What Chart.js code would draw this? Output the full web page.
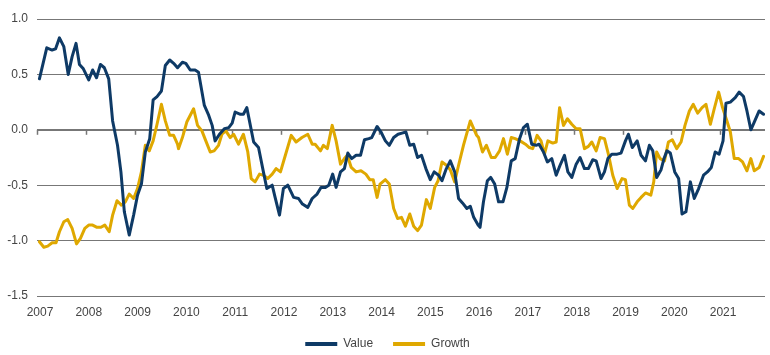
<!DOCTYPE html>
<html>
<head>
<meta charset="utf-8">
<script src="https://cdn.jsdelivr.net/npm/chart.js@4/dist/chart.umd.min.js"></script>
<style>
  html, body { margin: 0; padding: 0; background: #ffffff; }
  #wrap { width: 770px; height: 355px; position: relative; }
</style>
</head>
<body>
<div id="wrap"><canvas id="c" width="770" height="355"></canvas></div>
<script>
// ---- data ----
const yearTicks = [2007, 2008, 2009, 2010, 2011, 2012, 2013, 2014, 2015, 2016, 2017, 2018, 2019, 2020, 2021];
const yTicks = [-1.5, -1.0, -0.5, 0.0, 0.5, 1.0];

const valueDates = [
  2007.05, 2007.20, 2007.31, 2007.38, 2007.46, 2007.55, 2007.64, 2007.72, 2007.80, 2007.87, 2007.95,
  2008.06, 2008.14, 2008.22, 2008.30, 2008.38, 2008.47, 2008.55, 2008.65, 2008.72, 2008.79, 2008.89, 2008.98,
  2009.06, 2009.14, 2009.22, 2009.31, 2009.38, 2009.46, 2009.55, 2009.63, 2009.72, 2009.80, 2009.88, 2009.98,
  2010.05, 2010.14, 2010.24, 2010.31, 2010.43, 2010.52, 2010.59, 2010.65, 2010.74, 2010.84, 2010.93,
  2011.00, 2011.06, 2011.17, 2011.23, 2011.30, 2011.44, 2011.54, 2011.64, 2011.71, 2011.82, 2011.88, 2011.97,
  2012.05, 2012.14, 2012.26, 2012.36, 2012.44, 2012.55, 2012.64, 2012.74, 2012.82, 2012.91, 2012.98,
  2013.06, 2013.13, 2013.22, 2013.30, 2013.37, 2013.45, 2013.54, 2013.63, 2013.71, 2013.80, 2013.86, 2013.97,
  2014.05, 2014.14, 2014.22, 2014.31, 2014.40, 2014.48, 2014.56, 2014.64, 2014.72, 2014.80, 2014.88, 2014.97,
  2015.06, 2015.14, 2015.23, 2015.30, 2015.38, 2015.47, 2015.56, 2015.64, 2015.72, 2015.81, 2015.88, 2015.95,
  2016.04, 2016.08, 2016.15, 2016.23, 2016.30, 2016.38, 2016.46, 2016.55, 2016.63, 2016.72, 2016.80, 2016.89, 2016.97,
  2017.05, 2017.14, 2017.23, 2017.29, 2017.38, 2017.46, 2017.55, 2017.64, 2017.72, 2017.81, 2017.88, 2017.96,
  2018.05, 2018.13, 2018.22, 2018.30, 2018.39, 2018.46, 2018.56, 2018.63, 2018.70, 2018.78, 2018.89, 2018.97,
  2019.06, 2019.12, 2019.20, 2019.30, 2019.38, 2019.47, 2019.55, 2019.62, 2019.70, 2019.79, 2019.85, 2019.91, 2019.98,
  2020.07, 2020.15, 2020.22, 2020.30, 2020.39, 2020.47, 2020.56, 2020.66, 2020.74, 2020.82, 2020.90, 2020.98,
  2021.06, 2021.12, 2021.21, 2021.31, 2021.39, 2021.48, 2021.55, 2021.63, 2021.70, 2021.80, 2021.89
];
const valueSeries = [
  0.46, 0.74, 0.72, 0.73, 0.83, 0.75, 0.50, 0.66, 0.78, 0.59, 0.55,
  0.45, 0.54, 0.47, 0.59, 0.56, 0.46, 0.08, -0.14, -0.38, -0.74, -0.95, -0.77,
  -0.59, -0.49, -0.20, -0.08, 0.27, 0.30, 0.35, 0.58, 0.63, 0.60, 0.56, 0.61,
  0.60, 0.54, 0.54, 0.52, 0.22, 0.13, 0.04, -0.10, -0.04, 0.01, 0.02,
  0.06, 0.16, 0.14, 0.14, 0.20, -0.11, -0.16, -0.38, -0.53, -0.50, -0.61, -0.77,
  -0.53, -0.50, -0.61, -0.62, -0.67, -0.70, -0.62, -0.58, -0.52, -0.52, -0.50,
  -0.40, -0.52, -0.38, -0.35, -0.21, -0.26, -0.23, -0.23, -0.09, -0.08, -0.07, 0.03,
  -0.02, -0.10, -0.14, -0.07, -0.04, -0.03, -0.02, -0.14, -0.13, -0.25, -0.23, -0.35,
  -0.45, -0.38, -0.41, -0.46, -0.36, -0.28, -0.38, -0.62, -0.66, -0.71, -0.69, -0.79,
  -0.86, -0.88, -0.65, -0.46, -0.43, -0.49, -0.65, -0.65, -0.52, -0.28, -0.26, -0.08, 0.02,
  0.05, -0.13, -0.14, -0.13, -0.20, -0.29, -0.26, -0.41, -0.32, -0.23, -0.38, -0.43,
  -0.31, -0.25, -0.35, -0.35, -0.27, -0.28, -0.44, -0.38, -0.26, -0.22, -0.22, -0.21,
  -0.10, -0.04, -0.16, -0.10, -0.23, -0.28, -0.14, -0.19, -0.43, -0.36, -0.26, -0.19, -0.21,
  -0.38, -0.44, -0.76, -0.74, -0.47, -0.62, -0.53, -0.41, -0.38, -0.34, -0.20, -0.22,
  -0.10, 0.24, 0.25, 0.29, 0.34, 0.30, 0.17, 0.00, 0.07, 0.17, 0.14
];

const growthDates = [
  2007.05, 2007.14, 2007.22, 2007.31, 2007.39, 2007.46, 2007.55, 2007.63, 2007.72, 2007.81, 2007.89, 2007.98,
  2008.06, 2008.14, 2008.23, 2008.31, 2008.39, 2008.48, 2008.55, 2008.64, 2008.73, 2008.81, 2008.89, 2008.98,
  2009.06, 2009.14, 2009.22, 2009.30, 2009.38, 2009.46, 2009.55, 2009.63, 2009.72, 2009.80, 2009.88, 2009.90, 2009.98,
  2010.07, 2010.21, 2010.29, 2010.38, 2010.46, 2010.55, 2010.63, 2010.72, 2010.79, 2010.87, 2010.96,
  2011.03, 2011.13, 2011.23, 2011.32, 2011.39, 2011.47, 2011.56, 2011.64, 2011.73, 2011.82, 2011.90, 2011.99,
  2012.09, 2012.21, 2012.31, 2012.43, 2012.55, 2012.64, 2012.70, 2012.81, 2012.87, 2012.95,
  2013.05, 2013.13, 2013.22, 2013.30, 2013.36, 2013.44, 2013.54, 2013.64, 2013.74, 2013.82, 2013.89, 2013.97,
  2014.03, 2014.14, 2014.22, 2014.31, 2014.39, 2014.47, 2014.55, 2014.64, 2014.72, 2014.80, 2014.88, 2014.98,
  2015.06, 2015.15, 2015.22, 2015.30, 2015.39, 2015.47, 2015.56, 2015.64, 2015.74, 2015.88,
  2016.01, 2016.05, 2016.13, 2016.21, 2016.31, 2016.39, 2016.48, 2016.56, 2016.64, 2016.72, 2016.80, 2016.90,
  2017.01, 2017.09, 2017.16, 2017.25, 2017.33, 2017.40, 2017.47, 2017.57, 2017.64, 2017.71, 2017.79, 2017.87, 2017.96,
  2018.05, 2018.13, 2018.22, 2018.30, 2018.37, 2018.46, 2018.54, 2018.63, 2018.71, 2018.80, 2018.89, 2018.99,
  2019.06, 2019.14, 2019.21, 2019.30, 2019.38, 2019.47, 2019.58, 2019.64, 2019.70, 2019.77, 2019.86, 2019.94,
  2020.02, 2020.11, 2020.20, 2020.28, 2020.37, 2020.45, 2020.54, 2020.63, 2020.71, 2020.80, 2020.88, 2020.97,
  2021.05, 2021.14, 2021.21, 2021.29, 2021.38, 2021.46, 2021.55, 2021.63, 2021.70, 2021.80, 2021.89
];
const growthSeries = [
  -1.01, -1.06, -1.05, -1.02, -1.02, -0.92, -0.83, -0.81, -0.89, -1.03, -0.98, -0.89,
  -0.86, -0.86, -0.88, -0.88, -0.86, -0.92, -0.77, -0.64, -0.68, -0.65, -0.58, -0.62,
  -0.53, -0.38, -0.14, -0.19, -0.10, 0.05, 0.23, 0.08, -0.05, -0.05, -0.13, -0.17, -0.07,
  0.07, 0.19, 0.04, -0.01, -0.10, -0.20, -0.19, -0.14, -0.04, -0.01, -0.07,
  -0.04, -0.13, -0.04, -0.20, -0.44, -0.47, -0.40, -0.41, -0.44, -0.40, -0.35, -0.38,
  -0.23, -0.05, -0.11, -0.07, -0.04, -0.13, -0.13, -0.19, -0.14, -0.17,
  0.04, -0.10, -0.31, -0.26, -0.23, -0.34, -0.38, -0.37, -0.40, -0.45, -0.45, -0.61,
  -0.49, -0.45, -0.49, -0.71, -0.80, -0.79, -0.87, -0.76, -0.87, -0.91, -0.86, -0.63,
  -0.71, -0.52, -0.46, -0.29, -0.32, -0.36, -0.47, -0.32, -0.14, 0.08,
  -0.05, -0.07, -0.20, -0.14, -0.25, -0.25, -0.19, -0.08, -0.22, -0.07, -0.08, -0.10,
  -0.13, -0.16, -0.17, -0.05, -0.10, -0.22, -0.10, -0.12, -0.11, 0.20, 0.04, 0.10, 0.05,
  0.01, 0.01, -0.17, -0.15, -0.11, -0.19, -0.07, -0.08, -0.22, -0.41, -0.53, -0.44,
  -0.45, -0.68, -0.71, -0.65, -0.61, -0.57, -0.59, -0.47, -0.20, -0.26, -0.28, -0.11,
  -0.09, -0.17, -0.11, 0.04, 0.17, 0.23, 0.15, 0.20, 0.23, 0.05, 0.19, 0.34,
  0.20, 0.08, -0.02, -0.26, -0.26, -0.29, -0.37, -0.26, -0.37, -0.34, -0.24
];

const seriesNames = ['Value', 'Growth'];
const seriesColors = ['#0e3a66', '#dfa800'];

// ---- build chart ----
const toPoints = (xs, ys) => xs.map((x, i) => ({ x: x, y: ys[i] }));

Chart.defaults.font.family = '"Liberation Sans", Arial, Helvetica, sans-serif';
Chart.defaults.font.size = 12;
Chart.defaults.color = '#444444';

const zeroTicks = {
  id: 'zeroTicks',
  beforeDatasetsDraw(chart) {
    const xs = chart.scales.x, ys = chart.scales.y;
    const y0 = ys.getPixelForValue(0);
    const ctx = chart.ctx;
    ctx.save();
    ctx.strokeStyle = '#777777';
    ctx.lineWidth = 1.5;
    yearTicks.forEach(v => {
      const px = Math.round(xs.getPixelForValue(v)) + 0.5;
      ctx.beginPath();
      ctx.moveTo(px, y0);
      ctx.lineTo(px, y0 + 5);
      ctx.stroke();
    });
    ctx.restore();
  }
};

// nudge the legend a few pixels right to sit where the reference has it
const legendNudge = {
  id: 'legendNudge',
  afterLayout(chart) {
    if (chart.legend) {
      chart.legend.left += 5;
      chart.legend.right += 5;
    }
  }
};

new Chart(document.getElementById('c'), {
  type: 'line',
  data: {
    datasets: [
      {
        label: seriesNames[0],
        data: toPoints(valueDates, valueSeries),
        borderColor: seriesColors[0],
        backgroundColor: seriesColors[0],
        borderWidth: 3,
        pointRadius: 0,
        tension: 0,
        borderJoinStyle: 'round',
        borderCapStyle: 'round'
      },
      {
        label: seriesNames[1],
        data: toPoints(growthDates, growthSeries),
        borderColor: seriesColors[1],
        backgroundColor: seriesColors[1],
        borderWidth: 3,
        pointRadius: 0,
        tension: 0,
        borderJoinStyle: 'round',
        borderCapStyle: 'round'
      }
    ]
  },
  options: {
    responsive: false,
    animation: false,
    devicePixelRatio: 1,
    layout: { padding: { top: 19, right: 5, bottom: -5, left: 0 } },
    plugins: {
      legend: {
        position: 'bottom',
        labels: {
          boxWidth: 32,
          boxHeight: 4,
          padding: 20,
          color: '#444444',
          font: { size: 12 },
          generateLabels(chart) {
            const items = Chart.defaults.plugins.legend.labels.generateLabels(chart);
            items.forEach(it => { it.lineWidth = 0; });
            return items;
          }
        }
      },
      tooltip: { enabled: false }
    },
    scales: {
      x: {
        type: 'linear',
        min: 2007,
        max: 2021.92,
        grid: { display: false, drawTicks: false },
        border: { display: false },
        afterBuildTicks(scale) { scale.ticks = yearTicks.map(v => ({ value: v })); },
        afterFit(scale) { scale.height = 22; },
        ticks: {
          autoSkip: false,
          maxRotation: 0,
          padding: 9,
          labelOffset: 3,
          color: '#444444',
          callback: v => String(v)
        }
      },
      y: {
        min: -1.5,
        max: 1.0,
        afterBuildTicks(scale) { scale.ticks = yTicks.map(v => ({ value: v })); },
        afterFit(scale) { scale.width = 37; },
        grid: {
          drawTicks: false,
          color: '#777777',
          lineWidth: ctx => (ctx.tick && ctx.tick.value === 0 ? 2 : 1)
        },
        border: { display: false },
        ticks: {
          padding: 9,
          color: '#444444',
          callback: v => Number(v).toFixed(1)
        }
      }
    }
  },
  plugins: [zeroTicks, legendNudge]
});
</script>
</body>
</html>
